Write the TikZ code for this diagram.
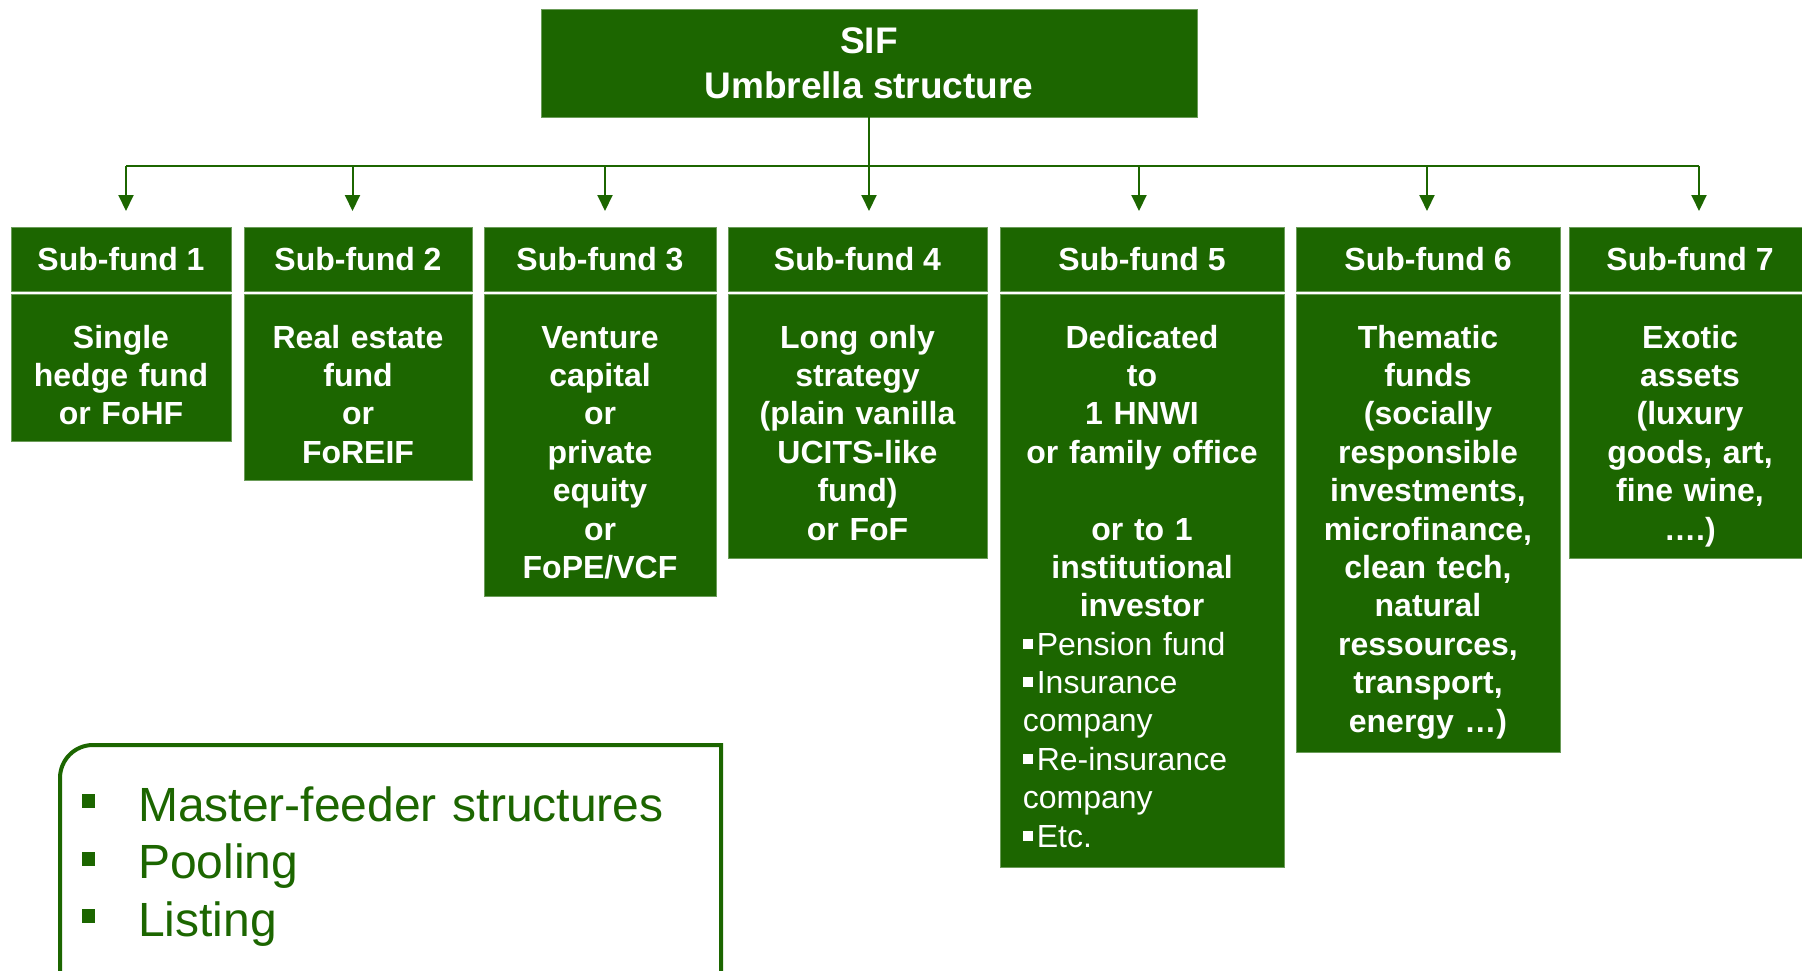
\documentclass[tikz,border=0pt]{standalone}
\usepackage{fontspec}
\setmainfont{Liberation Sans}
\usetikzlibrary{arrows.meta,calc}
\definecolor{fundgreen}{RGB}{28,102,0}
\newcommand{\smallsq}{\rule[6.5pt]{10pt}{10pt}\hspace{4pt}}
\newcommand{\bigsq}{\makebox[56pt][l]{\rule[13pt]{13pt}{14pt}}}
\tikzset{
  sifbox/.style={fill=fundgreen,draw=fundgreen!65!white,line width=0.8pt,text=white,
    font=\bfseries\fontsize{37}{45}\selectfont,align=center,inner sep=0pt},
  head/.style={fill=fundgreen,draw=fundgreen!65!white,line width=0.8pt,text=white,
    font=\bfseries\fontsize{32}{38.4}\selectfont,anchor=north,inner sep=0pt,minimum height=64pt},
  body/.style={fill=fundgreen,draw=fundgreen!65!white,line width=0.8pt,anchor=north,inner sep=0pt},
  bodytext/.style={text=white,font=\bfseries\fontsize{32}{38.4}\selectfont,align=center,anchor=base,inner sep=0pt},
  link/.style={draw=fundgreen,line width=2pt},
  arr/.style={link,-{Triangle[length=16pt,width=15pt]},shorten >=16pt}
}
\begin{document}
\begin{tikzpicture}[x=1pt,y=1pt]
            \useasboundingbox (0,0) rectangle (1802,-971);
            \fill[white] (0,0) rectangle (1802,-971);
            \clip (0,0) rectangle (1802,-971);
            % Umbrella
            \node[sifbox,minimum width=656pt,minimum height=108pt] (sif) at (869,-63) {SIF\\Umbrella structure};
            % Sub-fund headers
            \node[head,minimum width=220pt] (h1) at (121,-227) {Sub-fund 1};
            \node[head,minimum width=228pt] (h2) at (358,-227) {Sub-fund 2};
            \node[head,minimum width=232pt] (h3) at (600,-227) {Sub-fund 3};
            \node[head,minimum width=259pt] (h4) at (857.5,-227) {Sub-fund 4};
            \node[head,minimum width=284pt] (h5) at (1142,-227) {Sub-fund 5};
            \node[head,minimum width=264pt] (h6) at (1428,-227) {Sub-fund 6};
            \node[head,minimum width=242pt] (h7) at (1690,-227) {Sub-fund 7};
            % Sub-fund boxes
            \node[body,minimum width=220pt,minimum height=147pt] (b1) at (121,-294) {};
            \node[body,minimum width=228pt,minimum height=186pt] (b2) at (358,-294) {};
            \node[body,minimum width=232pt,minimum height=302pt] (b3) at (600,-294) {};
            \node[body,minimum width=259pt,minimum height=264pt] (b4) at (857.5,-294) {};
            \node[body,minimum width=284pt,minimum height=573pt] (b5) at (1142,-294) {};
            \node[body,minimum width=264pt,minimum height=458pt] (b6) at (1428,-294) {};
            \node[body,minimum width=242pt,minimum height=264pt] (b7) at (1690,-294) {};
            % Texts
            \node[bodytext,text width=220pt] (t1) at ($(b1.north)+(0,-54)$) {Single\\hedge fund\\or FoHF};
            \node[bodytext,text width=228pt] (t2) at ($(b2.north)+(0,-54)$) {Real estate\\fund\\or\\FoREIF};
            \node[bodytext,text width=232pt] (t3) at ($(b3.north)+(0,-54)$) {Venture\\capital\\or\\private\\equity\\or\\FoPE/VCF};
            \node[bodytext,text width=259pt] (t4) at ($(b4.north)+(0,-54)$) {Long only\\strategy\\(plain vanilla\\UCITS-like\\fund)\\or FoF};
            \node[bodytext,text width=284pt] (t5) at ($(b5.north)+(0,-54)$) {Dedicated\\to\\1 HNWI\\or family office\\[38.4pt]or to 1\\institutional\\investor};
            \node[bodytext,text width=250pt,align=left,anchor=base west,font=\fontsize{32}{38.4}\selectfont] (t5b) at ($(b5.north west)+(23,-361)$) {\smallsq Pension fund\\\smallsq Insurance\\company\\\smallsq Re-insurance\\company\\\smallsq Etc.};
            \node[bodytext,text width=264pt] (t6) at ($(b6.north)+(0,-54)$) {Thematic\\funds\\(socially\\responsible\\investments,\\microfinance,\\clean tech,\\natural\\ressources,\\transport,\\energy …)};
            \node[bodytext,text width=242pt] (t7) at ($(b7.north)+(0,-54)$) {Exotic\\assets\\(luxury\\goods, art,\\fine wine,\\….)};
            % Draw links
            \coordinate (bus) at (0,-166);
            \draw[link] (sif.south) -- (sif.south |- bus);
            \draw[link] ([xshift=5pt]h1.north |- bus) -- ([xshift=9pt]h7.north |- bus);
            \draw[arr] ([xshift=5pt]h1.north |- bus) -- ([xshift=5pt]h1.north);
            \draw[arr] ([xshift=-5.5pt]h2.north |- bus) -- ([xshift=-5.5pt]h2.north);
            \draw[arr] ([xshift=5pt]h3.north |- bus) -- ([xshift=5pt]h3.north);
            \draw[arr] (sif.south) -- (sif.south |- h4.north);
            \draw[arr] ([xshift=-3pt]h5.north |- bus) -- ([xshift=-3pt]h5.north);
            \draw[arr] ([xshift=-1pt]h6.north |- bus) -- ([xshift=-1pt]h6.north);
            \draw[arr] ([xshift=9pt]h7.north |- bus) -- ([xshift=9pt]h7.north);
            % Other features
            \draw[fundgreen,line width=4pt] (60,-990) -- (60,-778) arc[start angle=180,end angle=90,radius=33] -- (721,-745) -- (721,-990);
            \node[text=fundgreen,font=\fontsize{48}{57.6}\selectfont,text width=620pt,align=left,anchor=base west,inner sep=0pt] (list) at (82,-821)
              {\bigsq Master-feeder structures\\\bigsq Pooling\\\bigsq Listing};
\end{tikzpicture}
\end{document}
